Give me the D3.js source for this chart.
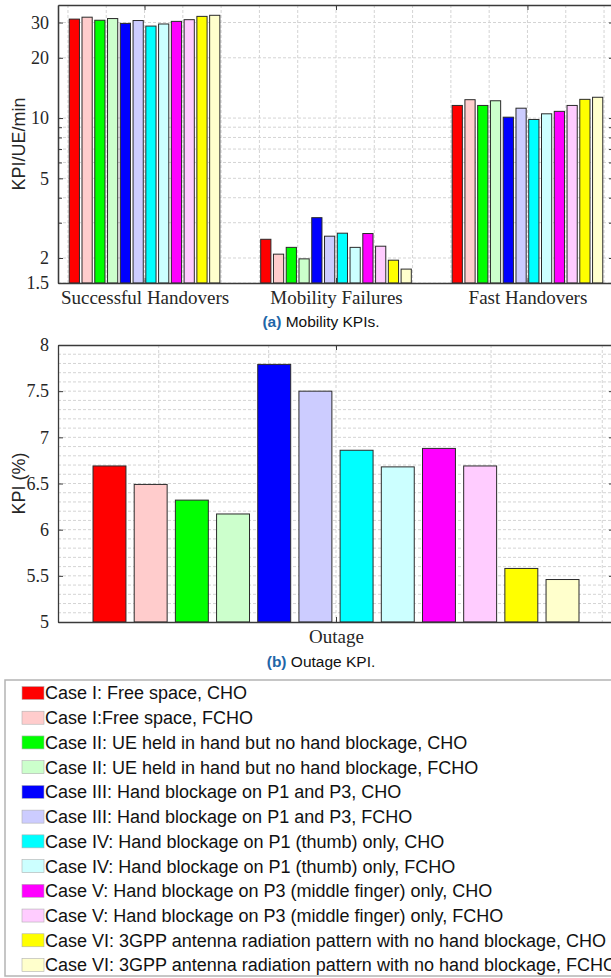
<!DOCTYPE html>
<html>
<head>
<meta charset="utf-8">
<script src="https://cdn.jsdelivr.net/npm/d3@7"></script>
<style>
  body { margin: 0; background: #fff; }
  svg { display: block; }
  .tick-label { font-family: "Liberation Serif", serif; font-size: 18px; fill: #262626; }
  .cat-label { font-family: "Liberation Serif", serif; font-size: 19px; fill: #262626; }
  .axis-title { font-family: "Liberation Sans", Arial, sans-serif; font-size: 18px; fill: #262626; }
  .caption { font-family: "Liberation Sans", Arial, sans-serif; font-size: 15.5px; fill: #111; }
  .legend-text { font-family: "Liberation Sans", Arial, sans-serif; font-size: 18px; fill: #111; }
</style>
</head>
<body>
<div id="chart"></div>
<script>
// --- data ---
const categories = ["Successful Handovers", "Mobility Failures", "Fast Handovers"];

const cases = [
  "Case I: Free space, CHO",
  "Case I:Free space, FCHO",
  "Case II: UE held in hand but no hand blockage, CHO",
  "Case II: UE held in hand but no hand blockage, FCHO",
  "Case III: Hand blockage on P1 and P3, CHO",
  "Case III: Hand blockage on P1 and P3, FCHO",
  "Case IV: Hand blockage on P1 (thumb) only, CHO",
  "Case IV: Hand blockage on P1 (thumb) only, FCHO",
  "Case V: Hand blockage on P3 (middle finger) only, CHO",
  "Case V: Hand blockage on P3 (middle finger) only, FCHO",
  "Case VI: 3GPP antenna radiation pattern with no hand blockage, CHO",
  "Case VI: 3GPP antenna radiation pattern with no hand blockage, FCHO"
];

const caseColors = [
  "#ff0000", "#ffcccc", "#00ff00", "#ccffcc", "#0000ff", "#ccccff",
  "#00ffff", "#ccffff", "#ff00ff", "#ffccff", "#ffff00", "#ffffcc"
];

const successfulHandovers = [31.2, 31.9, 30.8, 31.4, 29.7, 30.7, 28.8, 29.5, 30.4, 31.0, 32.2, 32.6];
const mobilityFailures    = [2.48, 2.09, 2.26, 1.98, 3.18, 2.57, 2.66, 2.26, 2.65, 2.29, 1.95, 1.76];
const fastHandovers       = [11.56, 12.35, 11.56, 12.2, 10.1, 11.2, 9.84, 10.5, 10.8, 11.56, 12.4, 12.7];
const outage              = [6.69, 6.49, 6.32, 6.17, 7.79, 7.50, 6.86, 6.68, 6.88, 6.69, 5.58, 5.46];

const topTicks = [1.5, 2, 5, 10, 20, 30];
const topMinorTicks = [3, 4, 6, 7, 8, 9];
const bottomTicks = [5, 5.5, 6, 6.5, 7, 7.5, 8];
const bottomXGrid = [0.713, 0.891, 1, 1.251, 1.431];

const W = 611, H = 978;
const gridColor = "#d4d4d4";
const axisColor = "#3a3a3a";

const svg = d3.select("#chart").append("svg")
  .attr("width", W).attr("height", H);

// --------------------------
// (a) MOBILITY KPIs (log)
// --------------------------
const topBox = { left: 58, right: 614, top: 5, bottom: 283 };

const xTop = d3.scaleLinear().domain([0.548, 3.452]).range([topBox.left, topBox.right]);
const yTop = d3.scaleLog().domain([1.5, 36.7]).range([topBox.bottom, topBox.top]);

// bars inside one group, in x units around the category centre
const inGroup = d3.scaleBand().domain(d3.range(cases.length))
  .range([-0.4, 0.4]).paddingInner(0.2).paddingOuter(0.1);

const gTop = svg.append("g");

// grid
gTop.append("g").selectAll("line")
  .data(d3.range(0.6, 3.41, 0.2))
  .join("line")
    .attr("x1", d => xTop(d)).attr("x2", d => xTop(d))
    .attr("y1", topBox.top).attr("y2", topBox.bottom)
    .attr("stroke", gridColor).attr("stroke-dasharray", "3,2");

gTop.append("g").selectAll("line")
  .data(topTicks.concat(topMinorTicks))
  .join("line")
    .attr("x1", topBox.left).attr("x2", topBox.right)
    .attr("y1", d => yTop(d)).attr("y2", d => yTop(d))
    .attr("stroke", gridColor).attr("stroke-dasharray", "3,2");

const topSeries = [successfulHandovers, mobilityFailures, fastHandovers];

const topBars = topSeries.flatMap((vals, ci) =>
  vals.map((v, k) => ({ cat: ci + 1, k, v })));

gTop.append("g").selectAll("rect")
  .data(topBars)
  .join("rect")
    .attr("x", d => xTop(d.cat + inGroup(d.k)))
    .attr("width", d => xTop(d.cat + inGroup.bandwidth()) - xTop(d.cat))
    .attr("y", d => yTop(d.v))
    .attr("height", d => yTop(1.5) - yTop(d.v))
    .attr("fill", d => caseColors[d.k])
    .attr("stroke", "#2a2a2a").attr("stroke-width", 1);

// axes
const leftTop = gTop.append("g").attr("transform", `translate(${topBox.left},0)`)
  .call(d3.axisLeft(yTop).tickValues(topTicks).tickFormat(d3.format("~g")).tickSizeInner(-5).tickSizeOuter(0).tickPadding(9));
const leftTopMinor = gTop.append("g").attr("transform", `translate(${topBox.left},0)`)
  .call(d3.axisLeft(yTop).tickValues(topMinorTicks).tickFormat("").tickSizeInner(-4).tickSizeOuter(0));
const rightTop = gTop.append("g").attr("transform", `translate(${topBox.right},0)`)
  .call(d3.axisRight(yTop).tickValues(topTicks.concat(topMinorTicks)).tickFormat("").tickSizeInner(-5).tickSizeOuter(0));
const bottomTop = gTop.append("g").attr("transform", `translate(0,${topBox.bottom})`)
  .call(d3.axisBottom(xTop).tickValues([1, 2, 3]).tickFormat((d, i) => categories[i]).tickSizeInner(-5).tickSizeOuter(0).tickPadding(8));
const topTop = gTop.append("g").attr("transform", `translate(0,${topBox.top})`)
  .call(d3.axisTop(xTop).tickValues([1, 2, 3]).tickFormat("").tickSizeInner(-5).tickSizeOuter(0));

[leftTop, leftTopMinor, rightTop, bottomTop, topTop].forEach(a => {
  a.select(".domain").attr("stroke", axisColor).attr("stroke-width", 1.3);
  a.selectAll(".tick line").attr("stroke", axisColor);
});
leftTop.selectAll(".tick text").attr("class", "tick-label").attr("font-size", null).attr("font-family", null);
bottomTop.selectAll(".tick text").attr("class", "cat-label").attr("font-size", null).attr("font-family", null);

svg.append("text").attr("class", "axis-title")
  .attr("transform", `translate(25,${(topBox.top + topBox.bottom) / 2}) rotate(-90)`)
  .attr("text-anchor", "middle")
  .text("KPI/UE/min");

const capA = svg.append("text").attr("class", "caption")
  .attr("x", 321).attr("y", 327).attr("text-anchor", "middle");
capA.append("tspan").attr("font-weight", "bold").attr("fill", "#1f66a8").text("(a)");
capA.append("tspan").text(" Mobility KPIs.");

// --------------------------
// (b) OUTAGE KPI
// --------------------------
const botBox = { left: 58, right: 614, top: 345, bottom: 622 };

const xBot = d3.scaleLinear().domain([0.55, 1.45]).range([botBox.left, botBox.right]);
const yBot = d3.scaleLinear().domain([5, 8]).range([botBox.bottom, botBox.top]);

const gBot = svg.append("g");

gBot.append("g").selectAll("line")
  .data(bottomXGrid)
  .join("line")
    .attr("x1", d => xBot(d)).attr("x2", d => xBot(d))
    .attr("y1", botBox.top).attr("y2", botBox.bottom)
    .attr("stroke", gridColor).attr("stroke-dasharray", "3,2");

gBot.append("g").selectAll("line")
  .data(d3.range(51, 80).map(d => d / 10))
  .join("line")
    .attr("x1", botBox.left).attr("x2", botBox.right)
    .attr("y1", d => yBot(d)).attr("y2", d => yBot(d))
    .attr("stroke", gridColor).attr("stroke-dasharray", "3,2");

gBot.append("g").selectAll("rect")
  .data(outage.map((v, k) => ({ k, v })))
  .join("rect")
    .attr("x", d => xBot(1 + inGroup(d.k)))
    .attr("width", xBot(1 + inGroup.bandwidth()) - xBot(1))
    .attr("y", d => yBot(d.v))
    .attr("height", d => yBot(5) - yBot(d.v))
    .attr("fill", d => caseColors[d.k])
    .attr("stroke", "#2a2a2a").attr("stroke-width", 1);

const leftBot = gBot.append("g").attr("transform", `translate(${botBox.left},0)`)
  .call(d3.axisLeft(yBot).tickValues(bottomTicks).tickFormat(d3.format("~g")).tickSizeInner(-5).tickSizeOuter(0).tickPadding(9));
const rightBot = gBot.append("g").attr("transform", `translate(${botBox.right},0)`)
  .call(d3.axisRight(yBot).tickValues(bottomTicks).tickFormat("").tickSizeInner(-5).tickSizeOuter(0));
const bottomBot = gBot.append("g").attr("transform", `translate(0,${botBox.bottom})`)
  .call(d3.axisBottom(xBot).tickValues([1]).tickFormat(() => "Outage").tickSizeInner(-5).tickSizeOuter(0).tickPadding(8));
const topBot = gBot.append("g").attr("transform", `translate(0,${botBox.top})`)
  .call(d3.axisTop(xBot).tickValues([1]).tickFormat("").tickSizeInner(-5).tickSizeOuter(0));

[leftBot, rightBot, bottomBot, topBot].forEach(a => {
  a.select(".domain").attr("stroke", axisColor).attr("stroke-width", 1.3);
  a.selectAll(".tick line").attr("stroke", axisColor);
});
leftBot.selectAll(".tick text").attr("class", "tick-label").attr("font-size", null).attr("font-family", null);
bottomBot.selectAll(".tick text").attr("class", "cat-label").attr("font-size", null).attr("font-family", null);

svg.append("text").attr("class", "axis-title")
  .attr("transform", `translate(25,${(botBox.top + botBox.bottom) / 2}) rotate(-90)`)
  .attr("text-anchor", "middle")
  .text("KPI (%)");

const capB = svg.append("text").attr("class", "caption")
  .attr("x", 321).attr("y", 667).attr("text-anchor", "middle");
capB.append("tspan").attr("font-weight", "bold").attr("fill", "#1f66a8").text("(b)");
capB.append("tspan").text(" Outage KPI.");

// --------------------------
// LEGEND
// --------------------------
const legend = svg.append("g");
legend.append("rect")
  .attr("x", 5).attr("y", 680).attr("width", 640).attr("height", 296)
  .attr("fill", "#fff").attr("stroke", "#b4b4b4").attr("stroke-width", 1.5);

const rowY = d3.scalePoint().domain(d3.range(cases.length)).range([693, 965]);

const rows = legend.selectAll("g.row")
  .data(cases)
  .join("g")
    .attr("class", "row")
    .attr("transform", (d, i) => `translate(0,${rowY(i)})`);

rows.append("rect")
  .attr("x", 22).attr("y", -6.5).attr("width", 22).attr("height", 13)
  .attr("fill", (d, i) => caseColors[i])
  .attr("stroke", "#b0b0b0").attr("stroke-width", 0.6);

rows.append("text").attr("class", "legend-text")
  .attr("x", 45).attr("dy", "0.36em")
  .text(d => d);
</script>
</body>
</html>
